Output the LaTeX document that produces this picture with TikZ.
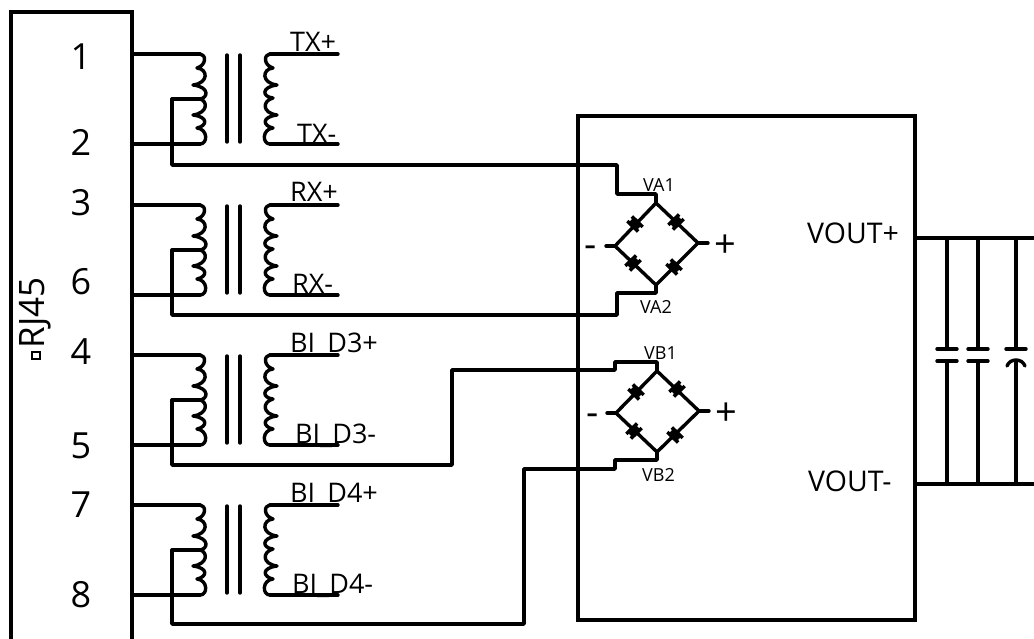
\documentclass[tikz,border=0pt]{standalone}
\usepackage{fontspec}
\setmainfont{Open Sans}
\newcommand{\fsz}[1]{\fontsize{#1}{#1}\selectfont}
\tikzset{
  wire/.style={line width=3.4pt,line join=round,line cap=round},
  frame/.style={line width=3.6pt,line join=miter},
  lab/.style={anchor=base west,inner sep=0pt,font=\fsz{27}},
  vout/.style={anchor=base west,inner sep=0pt,font=\fsz{28.5}},
  small/.style={anchor=base west,inner sep=0pt,font=\fsz{18}},
  pin/.style={anchor=center,inner sep=0pt,font=\fsz{36}},
  sign/.style={anchor=center,inner sep=0pt,font=\fsz{38}},
}
\newcommand{\dio}[3]{\begin{scope}[shift={(#1,#2)},rotate=#3]
  \fill (-5,-7.5) rectangle (-1.5,7.5);
  \fill (1.5,-7.5) rectangle (5,7.5);
  \fill (-2,-5.5) rectangle (2,5.5);
\end{scope}}
\begin{document}
\begin{tikzpicture}[x=1pt,y=-1pt]
\useasboundingbox (0,0) rectangle (1034,639);
% RJ45 body (runs off the bottom edge)
\draw[frame] (11,639) -- (11,12) -- (132,12) -- (132,639);
\node[rotate=90,inner sep=0pt,font=\fsz{35}] (rj) at (35,313) {RJ45};
\draw[line width=1.2pt] (32,352) rectangle (40,359);
% pin numbers
\foreach \t/\y in {1/57,2/142,3/203,6/282,4/352,5/446,7/505,8/595}
  \node[pin] (pin\t) at (81,\y) {\t};
% transformers
\foreach \n/\y in {a/54,b/205,c/355,d/505}{
  \begin{scope}[shift={(0,\y)}]
    \coordinate (\n in1) at (132,0);
    \coordinate (\n p1) at (200,0);
    \coordinate (\n in2) at (132,90);
    \coordinate (\n p2) at (200,90);
    \coordinate (\n tap) at (172,45);
    \coordinate (\n pt) at (200,45);
    \coordinate (\n s1) at (270,0);
    \coordinate (\n o1) at (338,0);
    \coordinate (\n s2) at (270,90);
    \coordinate (\n o2) at (338,90);
    \draw[wire] (\n in1) -- (\n p1);
    \draw[wire] (\n in2) -- (\n p2);
    \draw[wire] (\n tap) -- (\n pt);
    \draw[wire] (\n s1) -- (\n o1);
    \draw[wire] (\n s2) -- (\n o2);
    \draw[wire] (200,0) .. controls (206,0) and (207,11) .. (197,14)
       (197,14) .. controls (208,15) and (209,29) .. (193,31)
       (193,31) .. controls (210,33) and (208,44) .. (200,45)
       (200,45) .. controls (208,47) and (208,59) .. (193,61)
       (193,61) .. controls (209,63) and (207,72) .. (197,74)
       (197,74) .. controls (208,75) and (208,90) .. (200,90);
    \draw[wire] (270,0) .. controls (264,0) and (263,11) .. (273,14)
       (273,14) .. controls (262,15) and (261,29) .. (277,31)
       (277,31) .. controls (261,33) and (262,43) .. (273,44)
       (273,44) .. controls (262,47) and (262,59) .. (277,61)
       (277,61) .. controls (261,63) and (263,72) .. (273,74)
       (273,74) .. controls (262,75) and (262,90) .. (270,90);
    \draw[wire] (227,1) -- (227,88);
    \draw[wire] (240,1) -- (240,88);
  \end{scope}
}
% winding labels
\node[lab] (l1) at (290,52) {TX+};
\node[lab] (l2) at (297,144) {TX-};
\node[lab] (l3) at (290,202) {RX+};
\node[lab] (l4) at (292,294) {RX-};
\node[lab] (l5) at (290,352) {BI\_D3+};
\node[lab] (l6) at (295,443) {BI\_D3-};
\node[lab] (l7) at (290,502) {BI\_D4+};
\node[lab] (l8) at (292,593) {BI\_D4-};
% converter module
\draw[frame] (578,116) rectangle (915,620);
% bridges
\coordinate (at) at (656,203); \coordinate (al) at (615,246);
\coordinate (ar) at (698,243); \coordinate (ab) at (656,285);
\coordinate (bt) at (657,371); \coordinate (bl) at (616,413);
\coordinate (br) at (699,411); \coordinate (bb) at (657,452);
\draw[wire] (at) -- (al) -- (ab) -- (ar) -- cycle;
\draw[wire] (bt) -- (bl) -- (bb) -- (br) -- cycle;
\draw[wire] (al) -- ++(-9,0); \draw[wire] (ar) -- ++(10,0);
\draw[wire] (bl) -- ++(-9,0); \draw[wire] (br) -- ++(10,0);
\dio{635}{224}{46}\dio{676}{222}{-46}\dio{633}{263}{-46}\dio{674}{267}{46}
\dio{636}{392}{46}\dio{677}{389}{-46}\dio{634}{431}{-46}\dio{675}{435}{46}
% tap wires
\draw[wire] (atap) -- (172,165) -- (617,165) -- (617,194) -- (656,194) -- (at);
\draw[wire] (btap) -- (172,315) -- (617,315) -- (617,293) -- (656,293) -- (ab);
\draw[wire] (ctap) -- (172,465) -- (452,465) -- (452,370) -- (615,370) -- (615,362) -- (657,362) -- (bt);
\draw[wire] (dtap) -- (172,624) -- (524,624) -- (524,469) -- (615,469) -- (615,460) -- (657,460) -- (bb);
% module labels
\node[small] (va1) at (643,192) {VA1};
\node[small] (va2) at (640,313) {VA2};
\node[small] (vb1) at (644,359) {VB1};
\node[small] (vb2) at (642,481) {VB2};
\node[sign] (am) at (591,252) {-};
\node[sign] (ap) at (725,246) {+};
\node[sign] (bm) at (593,420) {-};
\node[sign] (bp) at (726,414) {+};
\node[vout] (vp) at (807,244) {VOUT+};
\node[vout] (vm) at (808,491) {VOUT-};
% output rails and capacitors
\coordinate (rp) at (915,238); \coordinate (rpe) at (1034,238);
\coordinate (rm) at (915,484); \coordinate (rme) at (1034,484);
\draw[wire,line cap=butt] (rp) -- (rpe);
\draw[wire,line cap=butt] (rm) -- (rme);
\foreach \x in {947,978}{
  \draw[wire] (\x,238) -- (\x,349);
  \draw[wire] (\x,361) -- (\x,484);
  \draw[wire] (\x-10,349) -- (\x+10,349);
  \draw[wire] (\x-10,361) -- (\x+10,361);
}
\draw[wire] (1016,238) -- (1016,349);
\draw[wire] (1006,349) -- (1026,349);
\draw[wire] (1016,361) -- (1016,484);
\draw[wire] (1007,366) .. controls (1010,358) and (1022,358) .. (1025,366);
\end{tikzpicture}
\end{document}
